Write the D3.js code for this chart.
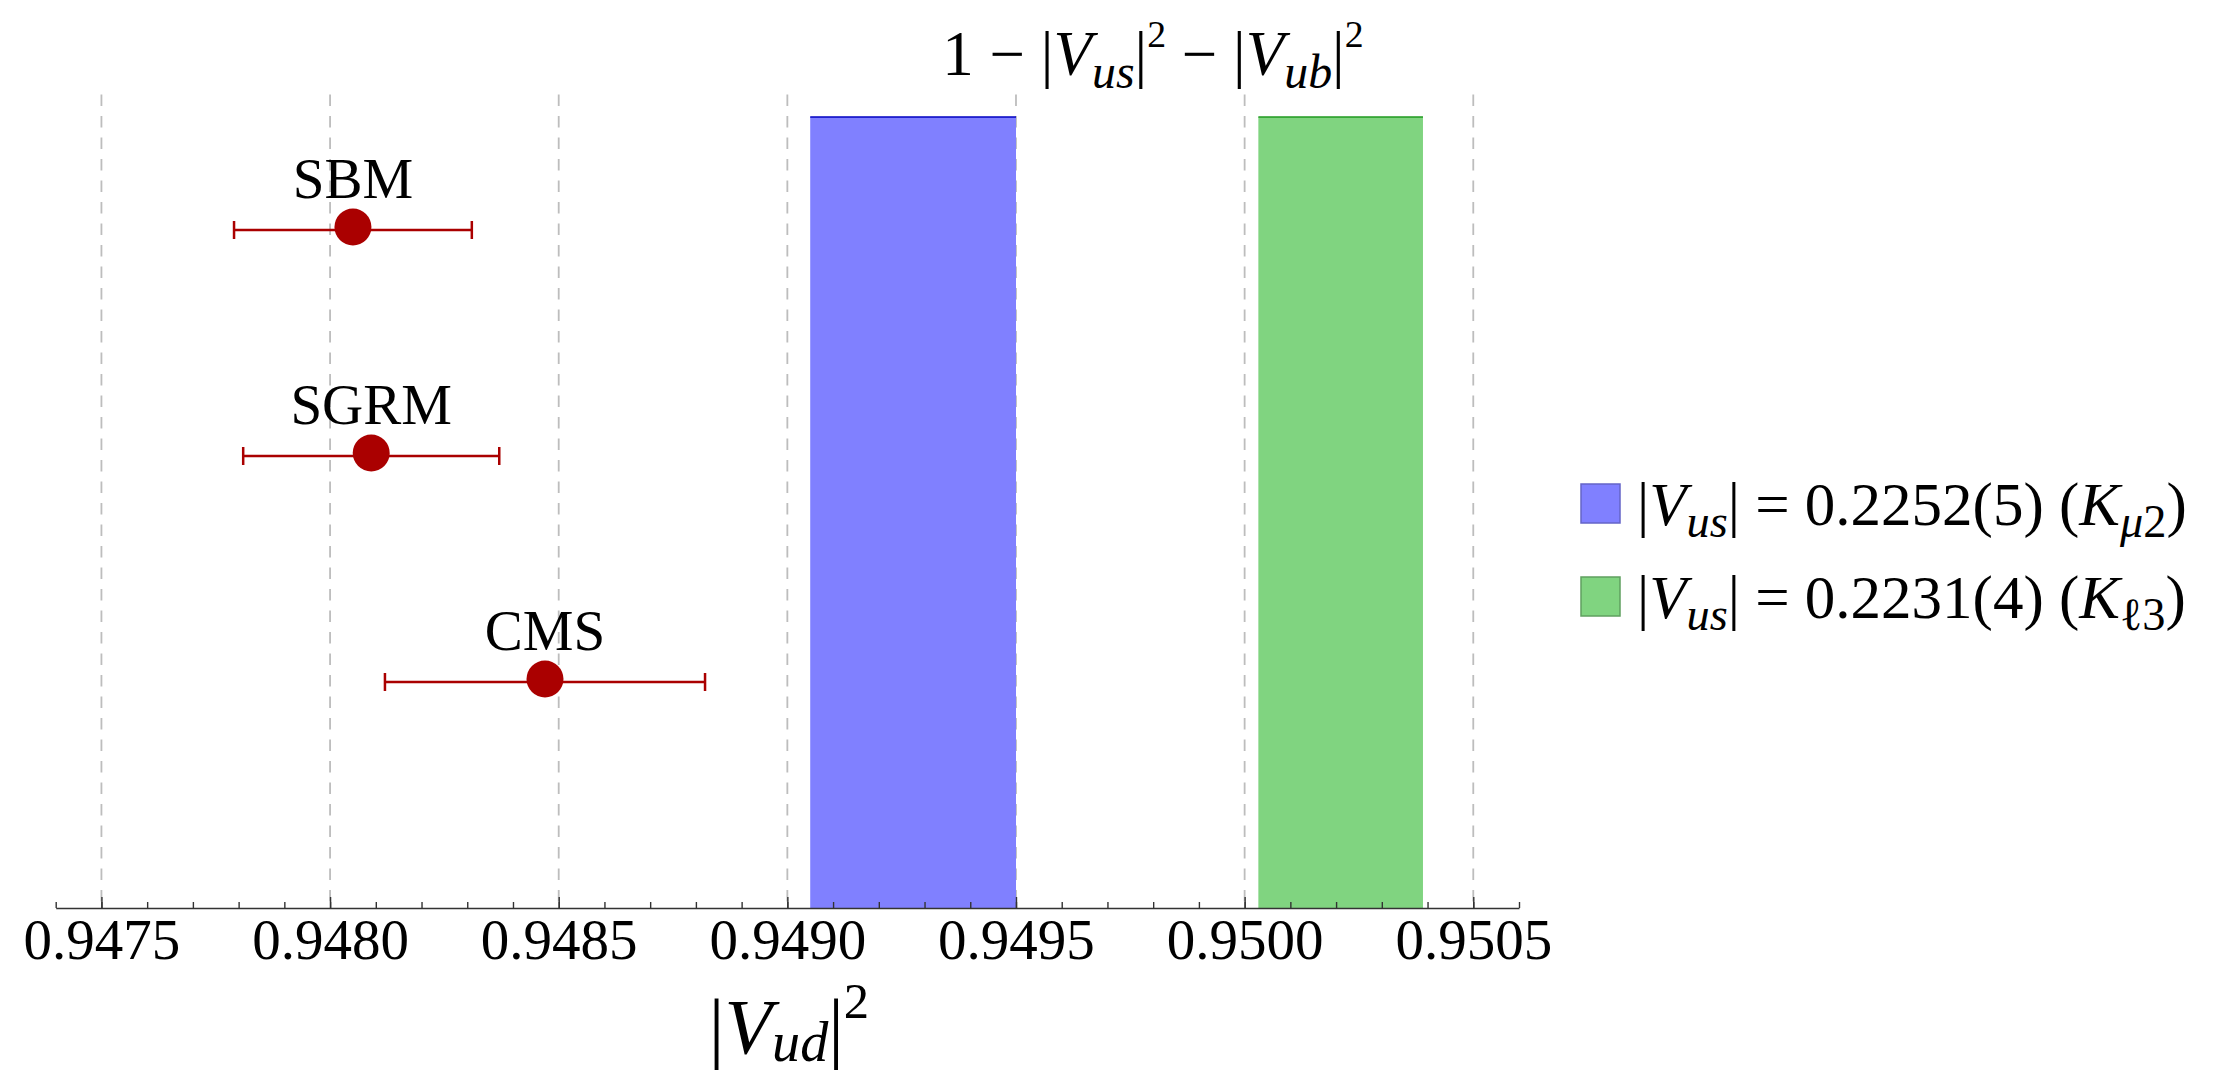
<!DOCTYPE html>
<html>
<head>
<meta charset="utf-8">
<script src="https://cdnjs.cloudflare.com/ajax/libs/d3/7.8.5/d3.min.js"></script>
<style>
  body { margin: 0; background: #fff; }
  text { font-family: "Liberation Serif", "DejaVu Serif", serif; white-space: pre; }
</style>
</head>
<body>
<div id="chart"></div>
<script>
// measurements of |Vud|^2
const categories = ["SBM", "SGRM", "CMS"];
const centers = [0.94805, 0.94809, 0.94847];
const errors = [0.00026, 0.00028, 0.00035];
const rows = [3, 2, 1];

// bands 1 - |Vus|^2 - |Vub|^2
const bandLow = [0.94905, 0.95003];
const bandHigh = [0.94950, 0.95039];
const bandTop = 3.5;

const majorTicks = [0.9475, 0.9480, 0.9485, 0.9490, 0.9495, 0.9500, 0.9505];
const tickLabels = ["0.9475", "0.9480", "0.9485", "0.9490", "0.9495", "0.9500", "0.9505"];

const W = 2215, H = 1074;

const svg = d3.select("#chart").append("svg")
  .attr("width", W).attr("height", H);

const x = d3.scaleLinear().domain([0.9474, 0.9506]).range([55.7, 1519]);
const y = d3.scaleLinear().domain([0, 3.6]).range([908, 908 - 3.6 * 226]);

// grid lines
svg.append("g").selectAll("line")
  .data(majorTicks)
  .enter().append("line")
  .attr("x1", d => x(d)).attr("x2", d => x(d))
  .attr("y1", y(3.6)).attr("y2", y(0))
  .attr("stroke", "#bdbdbd")
  .attr("stroke-width", 1.8)
  .attr("stroke-dasharray", "11.5,10");

// bands
const bandFill = ["#8080ff", "#80d480"];
const bandEdge = ["#0000c0", "#1f9a1f"];
const bands = svg.append("g");
bands.selectAll("rect")
  .data(bandLow)
  .enter().append("rect")
  .attr("x", (d, i) => x(d))
  .attr("width", (d, i) => x(bandHigh[i]) - x(d))
  .attr("y", y(bandTop))
  .attr("height", y(0) - y(bandTop))
  .attr("fill", (d, i) => bandFill[i]);
bands.selectAll("line")
  .data(bandLow)
  .enter().append("line")
  .attr("x1", d => x(d)).attr("x2", (d, i) => x(bandHigh[i]))
  .attr("y1", y(bandTop)).attr("y2", y(bandTop))
  .attr("stroke", (d, i) => bandEdge[i])
  .attr("stroke-width", 1.5);

// axis
const minor = svg.append("g")
  .attr("transform", "translate(0," + y(0) + ")")
  .call(d3.axisBottom(x).ticks(32).tickSize(-6).tickSizeOuter(0).tickFormat(""));
minor.selectAll("line").attr("stroke", "#333").attr("stroke-width", 1.4);
minor.select(".domain").attr("stroke", "#333").attr("stroke-width", 1.6);

const major = svg.append("g")
  .attr("transform", "translate(0," + y(0) + ")")
  .call(d3.axisBottom(x).tickValues(majorTicks).tickSize(-11).tickSizeOuter(0)
    .tickFormat((d, i) => tickLabels[i]));
major.select(".domain").remove();
major.selectAll("line").attr("stroke", "#333").attr("stroke-width", 1.4);
major.selectAll("text")
  .attr("dy", null)
  .attr("y", 51)
  .attr("fill", "#000")
  .style("font-family", "Liberation Serif")
  .style("font-size", "57px");

// error bars
const red = "#aa0000";
const pts = svg.append("g");
pts.selectAll(".eb")
  .data(centers)
  .enter().append("line")
  .attr("x1", (d, i) => x(d - errors[i])).attr("x2", (d, i) => x(d + errors[i]))
  .attr("y1", (d, i) => y(rows[i])).attr("y2", (d, i) => y(rows[i]))
  .attr("stroke", red).attr("stroke-width", 2.5);
[-1, 1].forEach(s => {
  pts.selectAll(".cap" + s)
    .data(centers)
    .enter().append("line")
    .attr("x1", (d, i) => x(d + s * errors[i])).attr("x2", (d, i) => x(d + s * errors[i]))
    .attr("y1", (d, i) => y(rows[i]) - 9).attr("y2", (d, i) => y(rows[i]) + 9)
    .attr("stroke", red).attr("stroke-width", 2.5);
});
pts.selectAll("circle")
  .data(centers)
  .enter().append("circle")
  .attr("cx", d => x(d))
  .attr("cy", (d, i) => y(rows[i]) - 3)
  .attr("r", 18.5)
  .attr("fill", red);
pts.selectAll("text")
  .data(categories)
  .enter().append("text")
  .attr("x", (d, i) => x(centers[i]))
  .attr("y", (d, i) => y(rows[i]) - 32)
  .attr("text-anchor", "middle")
  .style("font-size", "57px")
  .text(d => d);

// rich text helper: sub/sup pieces shifted with dy
function rich(sel, segs, size, o) {
  let cur = 0;
  segs.forEach(s => {
    const target = s.sub ? size * o.subShift : s.sup ? -size * 0.45 : 0;
    const fs = s.sub ? size * o.subScale : s.sup ? size * o.supScale : size;
    sel.append("tspan")
      .attr("dy", target - cur)
      .style("font-size", fs + "px")
      .style("font-style", s.i ? "italic" : "normal")
      .text(s.t);
    cur = target;
  });
}

// title
rich(svg.append("text").attr("x", 1153).attr("y", 75).attr("text-anchor", "middle"), [
  {t: "1 \u2212 |"}, {t: "V", i: true}, {t: "us", i: true, sub: true}, {t: "|"}, {t: "2", sup: true},
  {t: " \u2212 |"}, {t: "V", i: true}, {t: "ub", i: true, sub: true}, {t: "|"}, {t: "2", sup: true}
], 63, {subShift: 0.2, subScale: 0.76, supScale: 0.6});

// x label
rich(svg.append("text").attr("x", 789).attr("y", 1053).attr("text-anchor", "middle"), [
  {t: "|"}, {t: "V", i: true}, {t: "ud", i: true, sub: true}, {t: "|"}, {t: "2", sup: true}
], 78, {subShift: 0.1, subScale: 0.72, supScale: 0.65});

// legend
const legendText = [
  [{t: "|"}, {t: "V", i: true}, {t: "us", i: true, sub: true}, {t: "| = 0.2252(5) ("}, {t: "K", i: true},
   {t: "\u03bc", i: true, sub: true}, {t: "2", sub: true}, {t: ")"}],
  [{t: "|"}, {t: "V", i: true}, {t: "us", i: true, sub: true}, {t: "| = 0.2231(4) ("}, {t: "K", i: true},
   {t: "\u2113", sub: true}, {t: "3", sub: true}, {t: ")"}]
];
const legendBorder = ["#6464c8", "#5fa05f"];
const leg = svg.append("g");
legendText.forEach((segs, i) => {
  const base = 525 + i * 93;
  leg.append("rect")
    .attr("x", 1581).attr("y", base - 41)
    .attr("width", 39).attr("height", 39)
    .attr("fill", bandFill[i])
    .attr("stroke", legendBorder[i]).attr("stroke-width", 1.5);
  rich(leg.append("text").attr("x", 1637).attr("y", base), segs, 61,
    {subShift: 0.2, subScale: 0.76, supScale: 0.6});
});
</script>
</body>
</html>
